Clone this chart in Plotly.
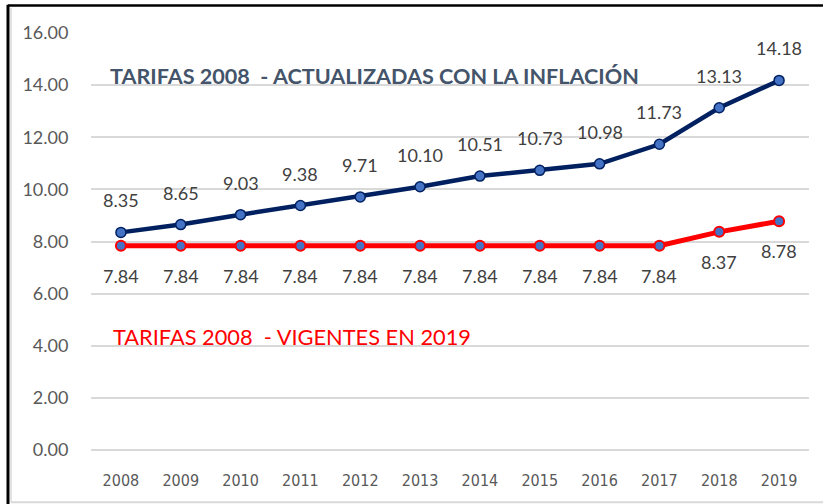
import plotly.graph_objects as go

years = ["2008", "2009", "2010", "2011", "2012", "2013", "2014", "2015", "2016", "2017", "2018", "2019"]
actualizadas = [8.35, 8.65, 9.03, 9.38, 9.71, 10.10, 10.51, 10.73, 10.98, 11.73, 13.13, 14.18]
vigentes = [7.84, 7.84, 7.84, 7.84, 7.84, 7.84, 7.84, 7.84, 7.84, 7.84, 8.37, 8.78]
y_ticks = [0, 2, 4, 6, 8, 10, 12, 14, 16]

NAVY = "#002060"
RED = "#FF0000"
MARK = "#4472C4"
LABEL = "#404040"
FONT = "Lato, 'Open Sans', sans-serif"

fig = go.Figure()
fig.add_trace(go.Scatter(
    x=years, y=actualizadas, mode="lines+markers",
    line=dict(color=NAVY, width=4.5),
    marker=dict(size=10, color=MARK, line=dict(color=NAVY, width=1.5)),
    showlegend=False, hoverinfo="skip"))
fig.add_trace(go.Scatter(
    x=years, y=vigentes, mode="lines+markers",
    line=dict(color=RED, width=5),
    marker=dict(size=10, color=MARK, line=dict(color=RED, width=2)),
    showlegend=False, hoverinfo="skip"))

annotations = []
for i, v in enumerate(actualizadas):
    annotations.append(dict(x=i, y=v, xref="x", yref="y", text=f"{v:.2f}",
                            showarrow=False, yshift=32,
                            font=dict(family=FONT, size=18, color=LABEL)))
for i, v in enumerate(vigentes):
    annotations.append(dict(x=i, y=v, xref="x", yref="y", text=f"{v:.2f}",
                            showarrow=False, yshift=-30,
                            font=dict(family=FONT, size=18, color=LABEL)))

annotations.append(dict(x=0.024, y=0.897, xref="paper", yref="paper",
                        xanchor="left", yanchor="middle", showarrow=False,
                        text="<b>TARIFAS 2008  - ACTUALIZADAS CON LA INFLACIÓN</b>",
                        font=dict(family=FONT, size=21.6, color="#44546A")))
annotations.append(dict(x=0.028, y=0.271, xref="paper", yref="paper",
                        xanchor="left", yanchor="middle", showarrow=False,
                        text="TARIFAS 2008  - VIGENTES EN 2019",
                        font=dict(family=FONT, size=21.8, color=RED)))

shapes = [
    dict(type="line", xref="paper", yref="paper", x0=-0.1156, x1=-0.1156, y0=-0.2, y1=1.068,
         line=dict(color="black", width=3)),
    dict(type="line", xref="paper", yref="paper", x0=-0.1156, x1=1.1, y0=1.066, y1=1.066,
         line=dict(color="black", width=2.5)),
    dict(type="line", xref="paper", yref="paper", x0=-0.1114, x1=-0.1114, y0=-0.125, y1=1.06,
         line=dict(color="#D9D9D9", width=1.5)),
    dict(type="line", xref="paper", yref="paper", x0=-0.1114, x1=1.1, y0=-0.125, y1=-0.125,
         line=dict(color="#D9D9D9", width=2)),
]

fig.update_layout(
    width=823, height=504,
    margin=dict(l=91, r=14, t=33, b=54),
    paper_bgcolor="white", plot_bgcolor="white",
    annotations=annotations, shapes=shapes,
    font=dict(family=FONT, color="#595959"),
)
fig.update_xaxes(
    type="category", range=[-0.5, 11.5], showgrid=False, zeroline=False, showline=False,
    automargin=False,
    ticks="outside", ticklen=16, tickcolor="rgba(0,0,0,0)",
    tickfont=dict(family="'Liberation Sans Narrow', 'Arial Narrow', 'DejaVu Sans Condensed', " + FONT,
                  size=16, color="#595959"),
)
fig.update_yaxes(
    range=[0, 16], tickvals=y_ticks, tickformat=".2f", automargin=False,
    showgrid=True, gridcolor="#D9D9D9", gridwidth=1.5,
    zeroline=True, zerolinecolor="#D9D9D9", zerolinewidth=1.5, showline=False,
    ticks="outside", ticklen=18, tickcolor="rgba(0,0,0,0)",
    tickfont=dict(family=FONT, size=18, color="#595959"),
)

fig.write_html("out.html", config={"displayModeBar": False},
               post_script="document.body.style.margin='0';document.body.style.overflow='hidden';")
